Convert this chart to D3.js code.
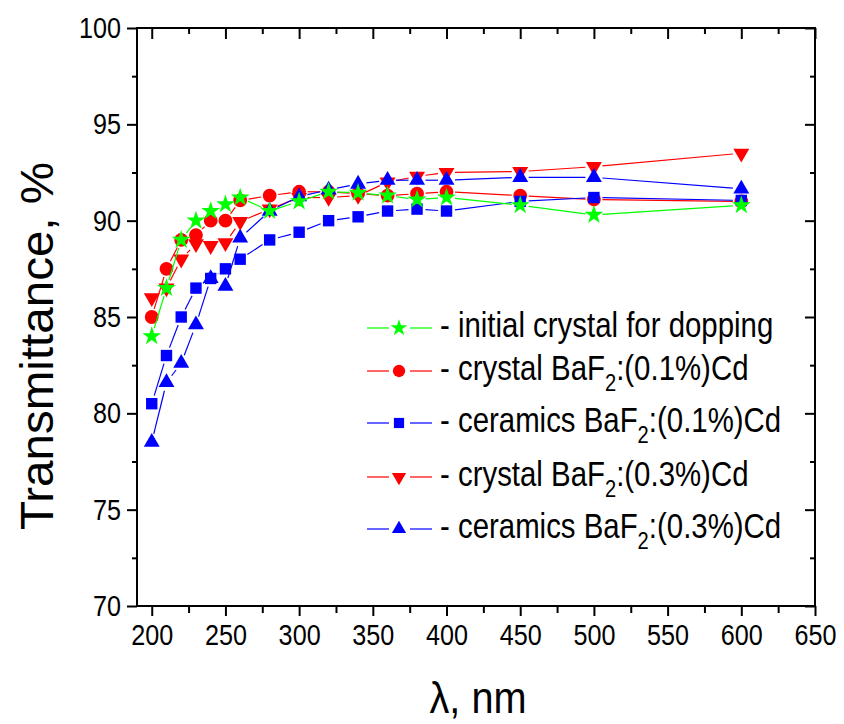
<!DOCTYPE html>
<html>
<head>
<meta charset="utf-8">
<script src="https://cdn.jsdelivr.net/npm/d3@7"></script>
<style>
  html, body { margin: 0; padding: 0; background: #fff; }
  svg { display: block; }
  text { font-family: "Liberation Sans", Arial, sans-serif; }
</style>
</head>
<body>
<svg id="chart" width="844" height="724"></svg>
<script>
// Wavelength grid, nm
const wavelength = [200, 210, 220, 230, 240, 250, 260, 280, 300, 320, 340, 360, 380, 400, 450, 500, 600];

// Transmittance, %
const initialCrystal = [84.0, 86.5, 89.0, 90.0, 90.5, 90.85, 91.2, 90.5, 91.0, 91.5, 91.45, 91.3, 91.1, 91.2, 90.8, 90.3, 90.8];
const crystal01     = [85.0, 87.5, 89.0, 89.25, 90.0, 90.0, 91.05, 91.3, 91.5, 91.5, 91.4, 91.3, 91.4, 91.5, 91.3, 91.1, 91.0];
const ceramics01    = [80.5, 83.0, 85.0, 86.5, 87.0, 87.5, 88.0, 89.0, 89.4, 90.0, 90.2, 90.5, 90.6, 90.5, 91.0, 91.2, 91.05];
const crystal03     = [86.0, 86.5, 88.0, 88.8, 88.7, 88.85, 89.95, 90.6, 91.2, 91.2, 91.3, 92.0, 92.3, 92.5, 92.55, 92.8, 93.5];
const ceramics03    = [78.5, 81.6, 82.6, 84.6, 87.0, 86.6, 89.1, 90.5, 91.25, 91.6, 91.9, 92.1, 92.1, 92.1, 92.25, 92.25, 91.65];

// Axis ticks
const xMajorTicks = [200, 250, 300, 350, 400, 450, 500, 550, 600, 650];
const xMinorTicks = [225, 275, 325, 375, 425, 475, 525, 575, 625];
const yMajorTicks = [70, 75, 80, 85, 90, 95, 100];
const yMinorTicks = [72.5, 77.5, 82.5, 87.5, 92.5, 97.5];

// Legend entries: [text before subscript, subscript, text after]
const legendLabels = [
  ["- initial crystal for dopping", "", ""],
  ["- crystal BaF", "2", ":(0.1%)Cd"],
  ["- ceramics BaF", "2", ":(0.1%)Cd"],
  ["- crystal BaF", "2", ":(0.3%)Cd"],
  ["- ceramics BaF", "2", ":(0.3%)Cd"]
];

const series = [
  { name: "initial", values: initialCrystal, color: "#00ff00", symbol: d3.symbolStar,     size: 110, rotate: 0,   legend: 0 },
  { name: "cr01",    values: crystal01,      color: "#ff0000", symbol: d3.symbolCircle,   size: 150, rotate: 0,   legend: 1 },
  { name: "ce01",    values: ceramics01,     color: "#0000ff", symbol: d3.symbolSquare,   size: 130, rotate: 0,   legend: 2 },
  { name: "cr03",    values: crystal03,      color: "#ff0000", symbol: d3.symbolTriangle, size: 110, rotate: 180, legend: 3 },
  { name: "ce03",    values: ceramics03,     color: "#0000ff", symbol: d3.symbolTriangle, size: 110, rotate: 0,   legend: 4 }
];
// paint order: lowest first
const drawOrder = ["cr03", "cr01", "ce01", "ce03", "initial"];

const svg = d3.select("#chart");
const plotLeft = 137, plotRight = 815, plotTop = 28, plotBottom = 606;
const squeeze = 0.84; // horizontal condensing of the label font

const x = d3.scaleLinear().domain([190, 650]).range([plotLeft, plotRight]);
const y = d3.scaleLinear().domain([70, 100]).range([plotBottom, plotTop]);

// Data lines, drawn as segments that stop short of the symbols
const gap = 8.5;
function segments(vals) {
  const out = [];
  for (let i = 0; i < vals.length - 1; i++) {
    const x1 = x(wavelength[i]), y1 = y(vals[i]);
    const x2 = x(wavelength[i + 1]), y2 = y(vals[i + 1]);
    const dx = x2 - x1, dy = y2 - y1, len = Math.hypot(dx, dy);
    if (len <= 2 * gap) continue;
    const ux = dx / len, uy = dy / len;
    out.push([x1 + ux * gap, y1 + uy * gap, x2 - ux * gap, y2 - uy * gap]);
  }
  return out;
}

const plot = svg.append("g");
drawOrder.forEach(key => {
  const s = series.find(d => d.name === key);
  const g = plot.append("g");
  g.selectAll("line").data(segments(s.values)).join("line")
    .attr("x1", d => d[0]).attr("y1", d => d[1])
    .attr("x2", d => d[2]).attr("y2", d => d[3])
    .attr("stroke", s.color).attr("stroke-width", 1.2);
  const sym = d3.symbol().type(s.symbol).size(s.size);
  g.selectAll("path").data(s.values).join("path")
    .attr("d", sym)
    .attr("transform", (d, i) => `translate(${x(wavelength[i])},${y(d)}) rotate(${s.rotate})`)
    .attr("fill", s.color);
});

// Axes
function styleAxis(g) {
  g.select(".domain").remove();
  g.selectAll(".tick line").attr("stroke", "#000").attr("stroke-width", 2);
  g.selectAll(".tick text").each(function () {
    const t = d3.select(this);
    const tx = +t.attr("x") || 0, ty = +t.attr("y") || 0;
    t.attr("x", 0).attr("y", 0)
      .attr("transform", `translate(${tx},${ty}) scale(${squeeze},1)`)
      .attr("font-size", 30).attr("fill", "#000");
  });
}

svg.append("g").attr("transform", `translate(0,${plotBottom})`)
  .call(d3.axisBottom(x).tickValues(xMajorTicks).tickSize(10).tickPadding(8).tickFormat(d3.format("d")))
  .call(styleAxis);
svg.append("g").attr("transform", `translate(0,${plotBottom})`)
  .call(d3.axisBottom(x).tickValues(xMinorTicks).tickSize(7).tickFormat(""))
  .call(styleAxis);
svg.append("g").attr("transform", `translate(0,${plotTop})`)
  .call(d3.axisBottom(x).tickValues(xMajorTicks).tickSize(11).tickFormat(""))
  .call(styleAxis);
svg.append("g").attr("transform", `translate(0,${plotTop})`)
  .call(d3.axisBottom(x).tickValues(xMinorTicks).tickSize(6).tickFormat(""))
  .call(styleAxis);

svg.append("g").attr("transform", `translate(${plotLeft},0)`)
  .call(d3.axisLeft(y).tickValues(yMajorTicks).tickSize(10).tickPadding(6).tickFormat(d3.format("d")))
  .call(styleAxis);
svg.append("g").attr("transform", `translate(${plotLeft},0)`)
  .call(d3.axisLeft(y).tickValues(yMinorTicks).tickSize(5).tickFormat(""))
  .call(styleAxis);
svg.append("g").attr("transform", `translate(${plotRight},0)`)
  .call(d3.axisLeft(y).tickValues(yMajorTicks).tickSize(10).tickFormat(""))
  .call(styleAxis);
svg.append("g").attr("transform", `translate(${plotRight},0)`)
  .call(d3.axisLeft(y).tickValues(yMinorTicks).tickSize(5).tickFormat(""))
  .call(styleAxis);

// Frame
svg.append("rect")
  .attr("x", plotLeft).attr("y", plotTop)
  .attr("width", plotRight - plotLeft).attr("height", plotBottom - plotTop)
  .attr("fill", "none").attr("stroke", "#000").attr("stroke-width", 2);

// Axis titles
svg.append("text")
  .attr("transform", `translate(53,346) rotate(-90)`)
  .attr("text-anchor", "middle")
  .attr("font-size", 46)
  .attr("textLength", 368).attr("lengthAdjust", "spacingAndGlyphs")
  .text("Transmittance, %");

svg.append("text")
  .attr("x", 478).attr("y", 713)
  .attr("text-anchor", "middle")
  .attr("font-size", 45)
  .attr("textLength", 97).attr("lengthAdjust", "spacingAndGlyphs")
  .text("λ, nm");

// Legend
const legendRowsY = [328, 371, 423, 477, 529];
const legend = svg.append("g");
series.forEach(s => {
  const ly = legendRowsY[s.legend];
  const row = legend.append("g");
  row.append("line").attr("x1", 367).attr("x2", 389).attr("y1", ly).attr("y2", ly)
    .attr("stroke", s.color).attr("stroke-width", 1.2);
  row.append("line").attr("x1", 410).attr("x2", 432).attr("y1", ly).attr("y2", ly)
    .attr("stroke", s.color).attr("stroke-width", 1.2);
  row.append("path")
    .attr("d", d3.symbol().type(s.symbol).size(s.size * 0.8))
    .attr("transform", `translate(399,${ly}) rotate(${s.rotate})`)
    .attr("fill", s.color);
  const lab = legendLabels[s.legend];
  const t = row.append("text")
    .attr("transform", `translate(440,${ly + 9}) scale(${squeeze},1)`)
    .attr("font-size", 35).attr("fill", "#000");
  t.append("tspan").text(lab[0]);
  if (lab[1]) {
    t.append("tspan").attr("dy", 11).attr("font-size", 24).text(lab[1]);
    t.append("tspan").attr("dy", -11).text(lab[2]);
  }
});
</script>
</body>
</html>
